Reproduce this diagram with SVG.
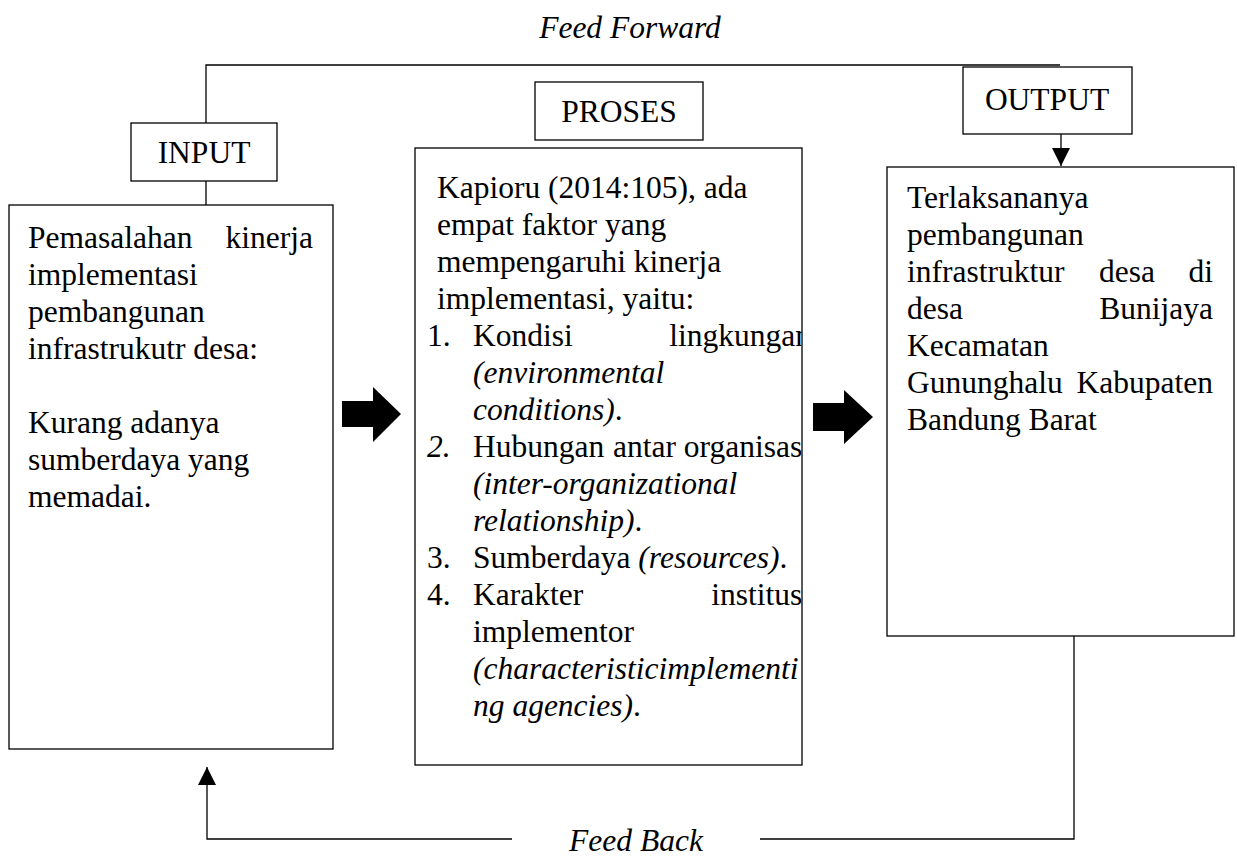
<svg xmlns="http://www.w3.org/2000/svg" width="1237" height="857" viewBox="0 0 1237 857">
<style>
.box{fill:#fff;stroke:#000;stroke-width:1.3}
.ln{fill:none;stroke:#000;stroke-width:1.3}
.t{font-family:"Liberation Serif","Times New Roman",serif;font-size:31.5px;fill:#000}
.i{font-style:italic}
.e{text-anchor:end}
.m{text-anchor:middle}
</style>
<defs>
<clipPath id="pclip"><rect x="415" y="148" width="386.5" height="617"/></clipPath>
<marker id="ah" viewBox="0 0 10 10" refX="10" refY="5" markerWidth="18" markerHeight="18" markerUnits="userSpaceOnUse" orient="auto"><path d="M0,0 L10,5 L0,10 Z" fill="#000"/></marker>
</defs>
<text class="t i m" x="630" y="38">Feed Forward</text>
<text class="t i m" x="636" y="851">Feed Back</text>
<g id="connectors">
<polyline class="ln" points="206,123 206,65 1060,65"/>
<line class="ln" x1="206" y1="181" x2="206" y2="205"/>
<line class="ln" x1="1061" y1="134" x2="1061" y2="166" marker-end="url(#ah)"/>
<polyline class="ln" points="1074,636 1074,839 760,839"/>
<polyline class="ln" points="512,839 207,839 207,767" marker-end="url(#ah)"/>
<polygon points="342,401 373,401 373,387 401,414 373,442 373,427 342,427" fill="#000"/>
<polygon points="813,403 844,403 844,390 873,417 844,444 844,431 813,431" fill="#000"/>
</g>
<g id="input-label">
<rect class="box" x="131" y="123" width="146" height="58"/>
<text class="t m" x="204" y="163">INPUT</text>
</g>
<g id="proses-label">
<rect class="box" x="535" y="82" width="168" height="58"/>
<text class="t m" x="619" y="122">PROSES</text>
</g>
<g id="output-label">
<rect class="box" x="963" y="67" width="169" height="67"/>
<text class="t m" x="1047" y="110">OUTPUT</text>
</g>
<g id="input">
<rect class="box" x="9" y="205" width="324" height="544"/>
<text class="t" x="28" y="248">Pemasalahan</text>
<text class="t e" x="313" y="248">kinerja</text>
<text class="t" x="28" y="285">implementasi</text>
<text class="t" x="28" y="322">pembangunan</text>
<text class="t" x="28" y="359">infrastrukutr desa:</text>
<text class="t" x="28" y="433">Kurang adanya</text>
<text class="t" x="28" y="470">sumberdaya yang</text>
<text class="t" x="28" y="507">memadai.</text>
</g>
<g id="proses">
<rect class="box" x="415" y="148" width="387" height="617"/>
<g clip-path="url(#pclip)">
<text class="t" x="437" y="198">Kapioru (2014:105), ada</text>
<text class="t" x="437" y="235">empat faktor yang</text>
<text class="t" x="437" y="272">mempengaruhi kinerja</text>
<text class="t" x="437" y="309">implementasi, yaitu:</text>
<text class="t" x="427" y="346">1.</text>
<text class="t" x="473" y="346">Kondisi</text>
<text class="t e" x="811" y="346">lingkungan</text>
<text class="t i" x="473" y="383">(environmental</text>
<text class="t" x="473" y="420"><tspan class="i">conditions)</tspan>.</text>
<text class="t i" x="427" y="457">2.</text>
<text class="t" x="473" y="457">Hubungan</text>
<text class="t" x="613" y="457">antar</text>
<text class="t e" x="811" y="457">organisasi</text>
<text class="t i" x="473" y="494">(inter-organizational</text>
<text class="t" x="473" y="531"><tspan class="i">relationship)</tspan>.</text>
<text class="t" x="427" y="568">3.</text>
<text class="t" x="473" y="568">Sumberdaya <tspan class="i">(resources)</tspan>.</text>
<text class="t" x="427" y="605">4.</text>
<text class="t" x="473" y="605">Karakter</text>
<text class="t e" x="811" y="605">institusi</text>
<text class="t" x="473" y="642">implementor</text>
<text class="t i" x="473" y="679">(characteristicimplementi</text>
<text class="t" x="473" y="716"><tspan class="i">ng agencies)</tspan>.</text>
</g>
</g>
<g id="output">
<rect class="box" x="887" y="167" width="347" height="469"/>
<text class="t" x="907" y="208">Terlaksananya</text>
<text class="t" x="907" y="245">pembangunan</text>
<text class="t" x="907" y="282">infrastruktur</text>
<text class="t" x="1099" y="282">desa</text>
<text class="t e" x="1213" y="282">di</text>
<text class="t" x="907" y="319">desa</text>
<text class="t e" x="1213" y="319">Bunijaya</text>
<text class="t" x="907" y="356">Kecamatan</text>
<text class="t" x="907" y="393">Gununghalu</text>
<text class="t e" x="1213" y="393">Kabupaten</text>
<text class="t" x="907" y="430">Bandung Barat</text>
</g>
</svg>
